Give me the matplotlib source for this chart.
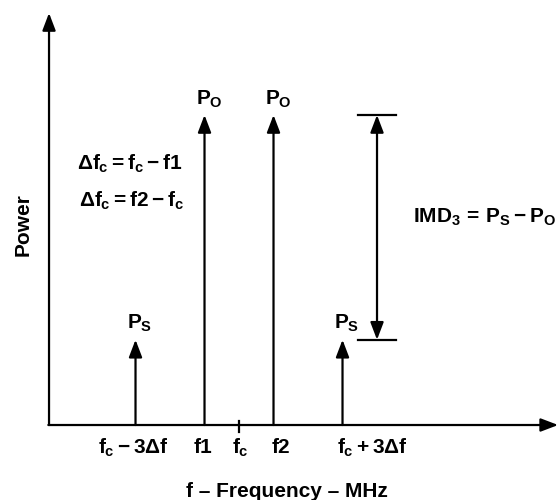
import matplotlib.pyplot as plt

plt.rcParams['font.family'] = ['Liberation Sans', 'DejaVu Sans']
plt.rcParams['font.weight'] = 'bold'
plt.rcParams['mathtext.fontset'] = 'custom'
plt.rcParams['mathtext.rm'] = 'Liberation Sans:bold'
plt.rcParams['mathtext.it'] = 'Liberation Sans:bold'
plt.rcParams['mathtext.bf'] = 'Liberation Sans:bold'

# Frequency in units of delta-f relative to fc, power in arbitrary units
tone_freq = [-3, -1, 1, 3]
tone_power = [2.75, 10, 10, 2.75]
tone_labels = ['$P_S$', '$P_O$', '$P_O$', '$P_S$']

tick_freq = [-3, -1, 0, 1, 3]
tick_labels = ['$f_c - 3Δf$', '$f1$', '$f_c$', '$f2$', '$f_c + 3Δf$']

imd_freq = 4.0
imd_levels = [2.75, 10]

fs = 15

fig = plt.figure(figsize=(5.59, 5.0), dpi=100)
ax = fig.add_axes([0, 0, 1, 1])
ax.set_xlim(-6.928, 9.275)
ax.set_ylim(-2.419, 13.71)
ax.axis('off')

lw = 1.6
arr = dict(arrowstyle='-|>,head_length=1.05,head_width=0.4', mutation_scale=10,
           color='black', lw=lw, shrinkA=0, shrinkB=0)

# axes with arrows
x0 = -5.507
ax.annotate('', xy=(x0, 13.29), xytext=(x0, 0), arrowprops=arr)
ax.annotate('', xy=(9.25, 0), xytext=(x0 - 0.02, 0), arrowprops=arr)

# tones
for f, p, lab in zip(tone_freq, tone_power, tone_labels):
    ax.annotate('', xy=(f, p), xytext=(f, 0), arrowprops=arr)
    ax.text(f + 0.13, p + 0.17, lab, ha='center', va='bottom', fontsize=fs)

# fc tick
ax.plot([0, 0], [0.14, -0.22], color='black', lw=lw)

# tick labels
label_dx = [-0.06, -0.04, 0.04, 0.2, 0.86]
for f, lab, dx in zip(tick_freq, tick_labels, label_dx):
    ax.text(f + dx, -0.74, lab, ha='center', va='center', fontsize=fs)

# IMD marker
arr2 = dict(arr)
arr2['arrowstyle'] = '<|-|>,head_length=1.05,head_width=0.4'
ax.annotate('', xy=(imd_freq, imd_levels[1]), xytext=(imd_freq, imd_levels[0]),
            arrowprops=arr2)
for lvl in imd_levels:
    ax.plot([imd_freq - 0.55, imd_freq + 0.55], [lvl, lvl], color='black', lw=lw)

ax.text(5.04, 6.52, r'$IMD_3\,=\,P_S - P_O$', ha='left', va='baseline', fontsize=fs)
ax.text(-4.70, 8.23, '$Δf_c = f_c - f1$', ha='left', va='baseline', fontsize=fs)
ax.text(-4.64, 7.03, '$Δf_c = f2 - f_c$', ha='left', va='baseline', fontsize=fs)

ax.text(-6.26, 6.48, 'Power', rotation=90, ha='center', va='center', fontsize=fs)
ax.text(1.39, -2.16, 'f – Frequency – MHz', ha='center', va='center', fontsize=fs)

fig.savefig('out.png', dpi=100)
